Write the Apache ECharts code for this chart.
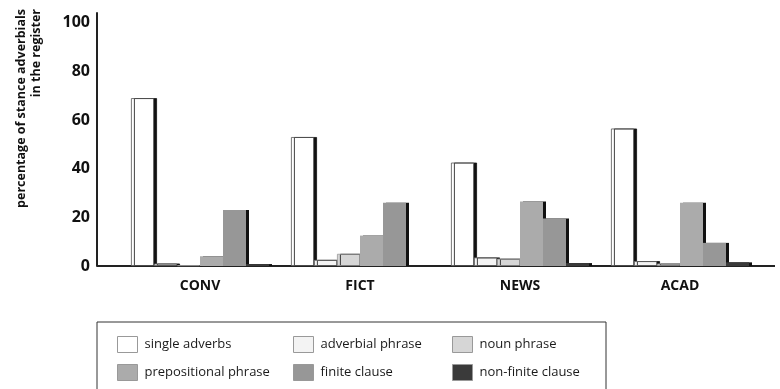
<!DOCTYPE html>
<html>
<head>
<meta charset="utf-8">
<script src="https://cdn.jsdelivr.net/npm/echarts@6/dist/echarts.min.js"></script>
<style>
  html, body { margin: 0; padding: 0; background: #fff; }
  #main { width: 780px; height: 389px; }
</style>
</head>
<body>
<div id="main"></div>
<script>
// registers on the x axis
var registers = ['CONV', 'FICT', 'NEWS', 'ACAD'];
var yTicks = [0, 20, 40, 60, 80, 100];

// percentage of stance adverbials, one array per realization
var singleAdverbs = [69, 53, 42.5, 56.5];
var adverbialPhrase = [1, 2.5, 3.5, 2];
var nounPhrase = [0.3, 5, 3, 1];
var prepositionalPhrase = [4, 12.5, 26.5, 26];
var finiteClause = [23, 26, 19.5, 9.5];
var nonFiniteClause = [0.8, 0, 1.2, 1.5];

var seriesNames = ['single adverbs', 'adverbial phrase', 'noun phrase',
  'prepositional phrase', 'finite clause', 'non-finite clause'];
var seriesData = [singleAdverbs, adverbialPhrase, nounPhrase,
  prepositionalPhrase, finiteClause, nonFiniteClause];
var fills = ['#ffffff', '#f3f3f3', '#d6d6d6', '#ababab', '#979797', '#3a3a3a'];
var borders = ['#555', '#666', '#999', null, null, null];

var chart = echarts.init(document.getElementById('main'));

var series = seriesData.map(function (d, i) {
  return {
    name: seriesNames[i],
    type: 'bar',
    data: d,
    barWidth: 23,
    barGap: '0%',
    itemStyle: {
      color: fills[i],
      borderColor: borders[i] || fills[i],
      borderWidth: borders[i] ? 0.8 : 0,
      shadowColor: '#111',
      shadowOffsetX: 3,
      shadowOffsetY: 0,
      shadowBlur: 0
    }
  };
});

// one legend per column (two rows each)
var legendCols = [[0, 3], [1, 4], [2, 5]];
var legendLeft = [112, 288, 447];
var legends = legendCols.map(function (col, c) {
  return {
    orient: 'vertical',
    left: legendLeft[c],
    top: 331,
    itemGap: 11,
    itemWidth: 20,
    itemHeight: 16,
    icon: 'rect',
    selectedMode: false,
    data: col.map(function (k) { return seriesNames[k]; }),
    itemStyle: { borderColor: '#999', borderWidth: 1, shadowColor: 'rgba(0,0,0,0)', shadowOffsetX: 0, shadowOffsetY: 0 },
    textStyle: { fontFamily: 'Open Sans', fontSize: 13, color: '#1a1a1a', padding: [0, 0, 0, 2] }
  };
});

var option = {
  backgroundColor: '#ffffff',
  animation: false,
  legend: legends,
  grid: { left: 120, right: 20, top: 13, bottom: 123, containLabel: false },
  xAxis: {
    type: 'category',
    data: registers,
    axisLine: { show: false },
    axisTick: { show: false },
    axisLabel: {
      margin: 13,
      fontFamily: 'Open Sans',
      fontWeight: 700,
      fontSize: 14,
      color: '#111'
    }
  },
  yAxis: {
    type: 'value',
    min: 0,
    max: 104,
    interval: 20,
    offset: 23,
    axisLine: { show: true, lineStyle: { color: '#222', width: 2 } },
    axisTick: { show: false },
    splitLine: { show: false },
    axisLabel: {
      margin: 7,
      fontFamily: 'Open Sans',
      fontWeight: 700,
      fontSize: 16,
      color: '#111',
      formatter: function (v) { return yTicks.indexOf(v) >= 0 ? String(v) : ''; }
    }
  },
  graphic: [
    {
      type: 'text',
      x: 29,
      y: 9,
      rotation: Math.PI / 2,
      style: {
        text: 'percentage of stance adverbials\nin the register',
        align: 'right',
        verticalAlign: 'middle',
        lineHeight: 15,
        font: '700 12.5px "Open Sans"',
        fill: '#111'
      }
    },
    {
      type: 'line',
      shape: { x1: 97, y1: 266, x2: 775, y2: 266 },
      style: { stroke: '#222', lineWidth: 2 }
    },
    {
      type: 'rect',
      shape: { x: 97, y: 322, width: 509, height: 80 },
      style: { fill: 'none', stroke: '#333', lineWidth: 1 },
      z: -1
    }
  ],
  series: series
};

chart.setOption(option);
</script>
</body>
</html>
